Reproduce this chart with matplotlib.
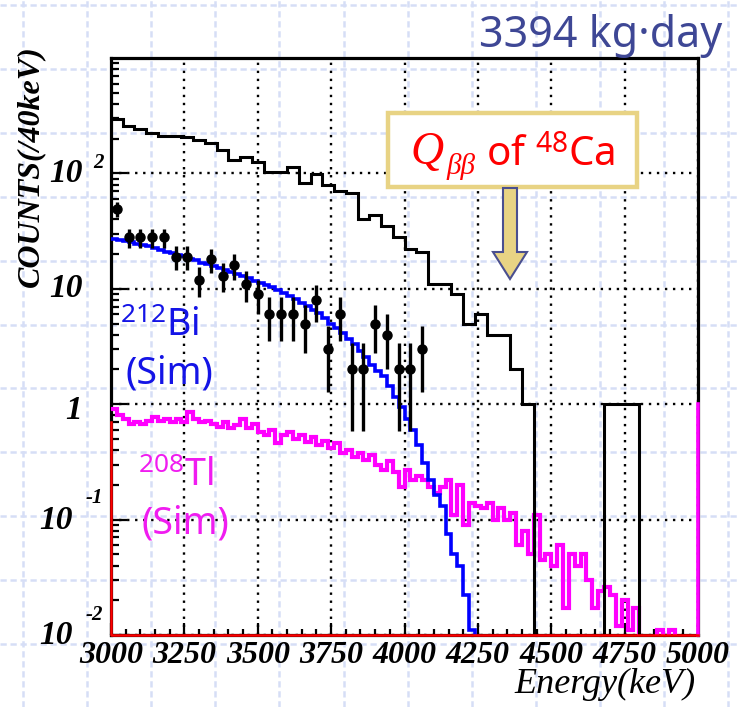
import numpy as np
import matplotlib
matplotlib.use("Agg")
import matplotlib.pyplot as plt
from matplotlib.patches import Rectangle, Polygon
from matplotlib.transforms import offset_copy

plt.rcParams['mathtext.fontset'] = 'custom'
plt.rcParams['mathtext.rm'] = 'Noto Sans'
plt.rcParams['mathtext.it'] = 'Liberation Serif:italic'

# energy range (keV)
E_MIN, E_MAX = 3000, 5000
Y_MIN, Y_MAX = 1e-2, 1e3

# all events, 40 keV bins
all_counts = [298, 257, 244, 223, 213, 213, 206, 196, 183, 160,
              131, 140, 125, 103, 103, 113, 82, 99, 79, 71,
              67, 40, 44, 35, 28, 22, 21, 11, 11, 9,
              5, 6, 4, 4, 2, 1, 0, 0, 0, 0,
              0, 0, 1, 1, 1, 0, 0, 0, 0, 0]

# selected events (points), 40 keV bins from 3000 keV
sel_counts = [49, 28, 28, 28, 28, 19, 19, 12, 18, 13, 16, 11, 9, 6,
              6, 6, 5, 8, 3, 6, 2, 2, 5, 4, 2, 2, 3]

# 212Bi simulation, 20 keV bins from 3000 keV
bi_sim = [26.8, 26.3, 25.8, 25.2, 24.6, 24.0, 23.3, 22.6, 21.8, 21.0,
          20.4, 19.8, 19.1, 18.3, 17.6, 16.9, 16.4, 15.8, 15.2, 14.6,
          14.0, 13.5, 13.0, 12.4, 11.8, 11.3, 10.8, 10.4, 9.8, 9.2,
          8.6, 8.2, 7.6, 7.1, 6.6, 6.2, 5.6, 5.0, 4.6, 4.1,
          3.7, 3.3, 2.9, 2.55, 2.2, 1.95, 1.75, 1.45, 1.15, 0.95,
          0.75, 0.6, 0.44, 0.31, 0.22, 0.165, 0.13, 0.075, 0.05, 0.04,
          0.022, 0.011, 0]

# 208Tl simulation, 20 keV bins from 3000 keV
tl_sim = [0.90, 0.80, 0.74, 0.68, 0.70, 0.68, 0.72, 0.78, 0.72, 0.74,
          0.70, 0.74, 0.70, 0.86, 0.74, 0.70, 0.72, 0.68, 0.64, 0.70,
          0.62, 0.66, 0.75, 0.62, 0.68, 0.58, 0.54, 0.60, 0.46, 0.54,
          0.58, 0.50, 0.54, 0.47, 0.52, 0.44, 0.48, 0.42, 0.46, 0.38,
          0.40, 0.35, 0.38, 0.33, 0.36, 0.30, 0.27, 0.32, 0.26, 0.19,
          0.27, 0.22, 0.24, 0.22, 0.19, 0.17, 0.19, 0.22, 0.11, 0.20,
          0.09, 0.14, 0.13, 0.125, 0.14, 0.10, 0.125, 0.10, 0.113, 0.06,
          0.08, 0.05, 0.11, 0.045, 0.05, 0.04, 0.06, 0.017, 0.05, 0.04,
          0.05, 0.03, 0.017, 0.024, 0.026, 0.022, 0.012, 0.02, 0.011, 0.017,
          0, 0, 0, 0.011, 0, 0.011, 0, 0, 0, 0]
tl_edge_level = 1.0   # Tl hist line at the upper edge
red_edge_level = 0.7  # empty (red) hist at the lower edge

x_ticks = [3000, 3250, 3500, 3750, 4000, 4250, 4500, 4750, 5000]


def hist_edges(n, width):
    return E_MIN + width * np.arange(n + 1)


def on_log(v):
    v = np.asarray(v, dtype=float)
    return np.where(v > 0, v, 1e-6)


W, H = 740, 707
fig = plt.figure(figsize=(W / 100, H / 100), dpi=100)
fig.patch.set_facecolor('white')


def fx(px):
    return px / W


def fy(py):
    return 1 - py / H


# slide background: light blue dashed grid
bg = fig.add_axes([0, 0, 1, 1], zorder=0)
bg.set_xlim(0, W)
bg.set_ylim(H, 0)
bg.axis('off')
for gx in 23 + 64.1 * np.arange(12):
    bg.axvline(gx, color='#d6def6', lw=1.8, ls=(0, (2.5, 1.5)))
for gy in 5 + 63.9 * np.arange(11):
    bg.axhline(gy, color='#d6def6', lw=1.8, ls=(0, (2.5, 1.5)))

ax = fig.add_axes([fx(111), fy(635), 587 / W, 577 / H], zorder=1)
ax.set_facecolor('none')
ax.set_yscale('log')
ax.set_xlim(E_MIN, E_MAX)
ax.set_ylim(Y_MIN, Y_MAX)

# histograms
ax.stairs(on_log(all_counts), hist_edges(len(all_counts), 40), baseline=None,
          color='black', lw=2.2, zorder=3)
ax.stairs(on_log(tl_sim), hist_edges(len(tl_sim), 20), baseline=None,
          color='#ff00ff', lw=3.0, zorder=2.6)
ax.stairs(on_log(bi_sim), hist_edges(len(bi_sim), 20), baseline=None,
          color='#0000ff', lw=2.6, zorder=2.8)
ax.plot([E_MAX, E_MAX], [Y_MIN, tl_edge_level], color='#ff00ff', lw=2.6,
        zorder=4, clip_on=False)
ax.plot([E_MIN, E_MIN, E_MAX], [red_edge_level, Y_MIN, Y_MIN], color='#ff0000',
        lw=1.8, zorder=4, clip_on=False)

# selected events with sqrt(N) errors
sel = np.array(sel_counts, dtype=float)
centers = E_MIN + 40 * np.arange(len(sel)) + 20
ax.errorbar(centers, sel, yerr=np.sqrt(sel), fmt='o', color='black',
            ms=6.5, elinewidth=2.4, capsize=0, zorder=5)

# frame, grid, ticks
for s in ax.spines.values():
    s.set_linewidth(2.3)
ax.set_xticks(x_ticks)
ax.set_xticks(np.arange(E_MIN, E_MAX + 1, 50), minor=True)
ax.set_yticks([1e-2, 1e-1, 1, 10, 100])
ax.yaxis.set_minor_locator(matplotlib.ticker.LogLocator(subs=np.arange(2, 10)))
ax.yaxis.set_minor_formatter(matplotlib.ticker.NullFormatter())
ax.set_yticklabels([])
ax.grid(True, which='major', color='black', ls=(0, (1, 2.4)), lw=1.7)
ax.tick_params(axis='x', which='major', direction='in', length=8.5, width=1.6,
               top=False, pad=4)
ax.tick_params(axis='x', which='minor', direction='in', length=4.5, width=1.6, top=False)
ax.tick_params(axis='y', which='major', direction='in', length=11.5, width=1.6, right=False)
ax.tick_params(axis='y', which='minor', direction='in', length=5.5, width=1.6, right=False)
tick_font = dict(family='Liberation Serif', weight='bold', style='italic')
ax.set_xticklabels([str(t) for t in x_ticks], fontsize=23, **tick_font)

# ROOT-style y labels
ytr = ax.get_yaxis_transform()
def ylab(txt, xfrac, yval, dy, size, ha):
    tr = offset_copy(ytr, fig=fig, x=0, y=dy, units='dots')
    ax.text(xfrac, yval, txt, transform=tr, ha=ha, va='center',
            fontsize=size, clip_on=False, **tick_font)

ylab('10', -0.049, 100, 0, 24, 'right')
ylab('2', -0.031, 100, 10, 15, 'left')
ylab('10', -0.049, 10, 0, 24, 'right')
ylab('1', -0.049, 1, -6, 24, 'right')
ylab('10', -0.066, 0.1, -1, 24, 'right')
ylab('-1', -0.044, 0.1, 22, 15, 'left')
ylab('10', -0.066, 0.01, -1, 24, 'right')
ylab('-2', -0.044, 0.01, 20, 15, 'left')

fig.text(fx(31), fy(166), 'COUNTS(/40keV)', rotation=90, ha='center',
         va='center', fontsize=23, **tick_font)
fig.text(fx(696), fy(684), 'Energy(keV)', ha='right', va='center',
         fontsize=26, family='Liberation Serif', style='italic')

# exposure
fig.text(fx(722), fy(47), '3394 kg\u00b7day', ha='right', va='baseline',
         fontsize=31, color='#3e4795', family='Noto Sans')

# species labels
lab = dict(ha='center', va='center', fontsize=27, family='Noto Sans')
fig.text(fx(160), fy(326), r'$^{212}$Bi', color='#1414e6', **lab)
fig.text(fx(169), fy(373), '(Sim)', color='#1414e6', **lab)
fig.text(fx(176), fy(476), r'$^{208}$Tl', color='#f01cf0', **lab)
fig.text(fx(185), fy(524), '(Sim)', color='#f01cf0', **lab)

# Q value box and arrow
fig.patches.append(Rectangle((fx(388), fy(187)), 249 / W, 74 / H,
                             transform=fig.transFigure, facecolor='white',
                             edgecolor='#e8d384', lw=3.2, zorder=6))
q_col = '#ff0000'
fig.text(fx(410), fy(164), 'Q', color=q_col, ha='left', va='baseline',
         fontsize=33, family='Liberation Serif', style='italic', zorder=7)
fig.text(fx(446), fy(174), '\u03b2\u03b2', color=q_col, ha='left', va='baseline',
         fontsize=21, family='Liberation Serif', style='italic', zorder=7)
fig.text(fx(486), fy(165), r'of $^{48}$Ca', color=q_col, ha='left', va='baseline',
         fontsize=29, family='Noto Sans', zorder=7)
arrow_px = [(503, 188), (517, 188), (517, 252), (527, 252), (510, 279),
            (493, 252), (503, 252)]
fig.patches.append(Polygon([(fx(px), fy(py)) for px, py in arrow_px],
                           closed=True, transform=fig.transFigure,
                           facecolor='#e8d384', edgecolor='#4a4f8f', lw=1.5,
                           zorder=6))

fig.savefig('out.png', dpi=100)
